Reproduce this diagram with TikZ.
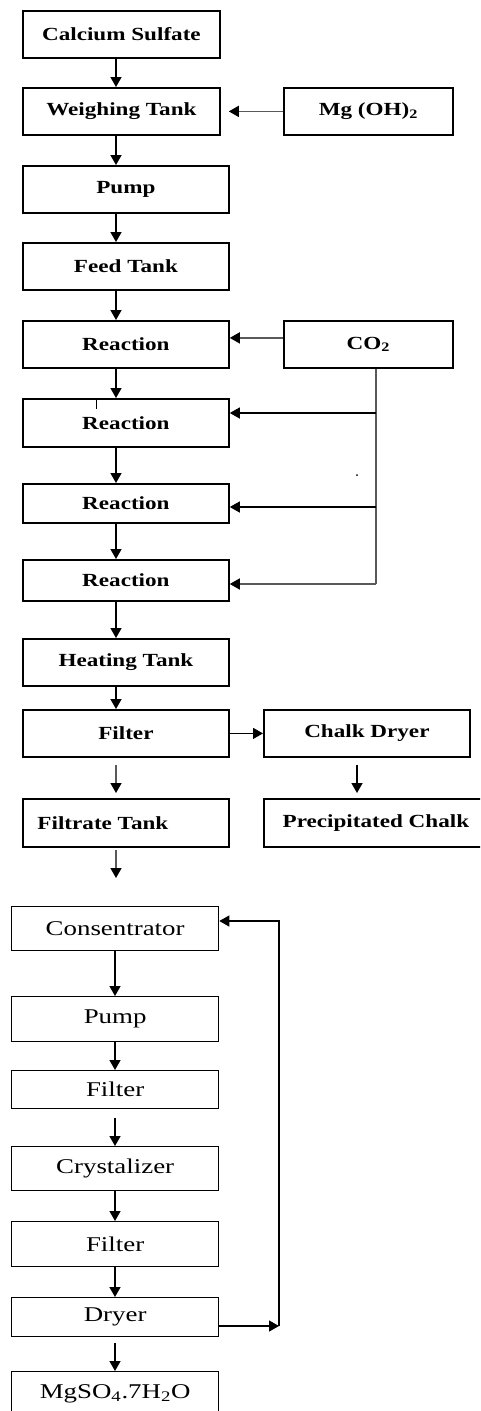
\documentclass[tikz,border=0pt]{standalone}
\usepackage{fontspec}
\usepackage{graphicx}
\setmainfont{Liberation Serif}
\usetikzlibrary{arrows.meta}
\newcommand{\hs}[1]{\scalebox{1.25}[1]{#1}}
\newcommand{\ls}[1]{\scalebox{1.28}[1]{#1}}
\tikzset{
  boxt/.style={draw=black, line width=1.8pt, inner sep=0pt, anchor=north west,
    font=\fontsize{18.5}{20}\selectfont\bfseries},
  boxb/.style={draw=black, line width=1.3pt, inner sep=0pt, anchor=north west,
    font=\fontsize{21}{23}\selectfont},
  arr/.style={-{Triangle[length=10pt,width=11pt,color=black]}, line width=1.5pt, draw=black},
  garr/.style={arr, draw=black!65},
  gline/.style={line width=1.8pt, draw=black!65},
}
\begin{document}
\begin{tikzpicture}[x=1pt,y=-1pt]
\useasboundingbox (0,0) rectangle (480,1411);
\clip (0,0) rectangle (480,1411);
% helper x positions
\coordinate (ax) at (116,0);
\coordinate (bx) at (115,0);
\coordinate (cx) at (376,0);
\coordinate (dx) at (357,0);
% upper boxes
\node[boxt, minimum width=197pt, minimum height=47pt] (cs) at (22,10) {\hs{Calcium Sulfate}};
\node[boxt, minimum width=197pt, minimum height=47pt] (wt) at (22,87) {\hs{Weighing Tank}};
\node[boxt, minimum width=169pt, minimum height=47pt] (mg) at (283,87) {\hs{Mg (OH)\textsubscript{2}}};
\node[boxt, minimum width=206pt, minimum height=47pt] (p1) at (22,165) {\hs{Pump}};
\node[boxt, minimum width=206pt, minimum height=47pt] (fd) at (22,242) {\hs{Feed Tank}};
\node[boxt, minimum width=206pt, minimum height=47pt] (r1) at (22,320) {\hs{Reaction}};
\node[boxt, minimum width=169pt, minimum height=47pt] (co) at (283,320) {\hs{CO\textsubscript{2}}};
\node[boxt, minimum width=206pt, minimum height=48pt] (r2) at (22,398) {\hs{Reaction}};
\node[boxt, minimum width=206pt, minimum height=39pt] (r3) at (22,483) {\hs{Reaction}};
\node[boxt, minimum width=206pt, minimum height=41pt] (r4) at (22,559) {\hs{Reaction}};
\node[boxt, minimum width=206pt, minimum height=47pt] (ht) at (22,638) {\hs{Heating Tank}};
\node[boxt, minimum width=206pt, minimum height=47pt] (f1) at (22,709) {\hs{Filter}};
\node[boxt, minimum width=206pt, minimum height=47pt] (cd) at (263,709) {\hs{Chalk Dryer}};
\node[boxt, minimum width=206pt, minimum height=48pt] (ft) at (22,798) {\hs{Filtrate Tank}\hspace*{46pt}};
\node[boxt, minimum width=224pt, minimum height=48pt] (pc) at (263,798) {\hs{Precipitated Chalk}};
% lower boxes
\node[boxb, minimum width=207pt, minimum height=44pt] (cn) at (11,906) {\ls{Consentrator}};
\node[boxb, minimum width=207pt, minimum height=45pt] (p2) at (11,996) {\ls{Pump}};
\node[boxb, minimum width=207pt, minimum height=38pt] (f2) at (11,1070) {\ls{Filter}};
\node[boxb, minimum width=207pt, minimum height=44pt] (cr) at (11,1146) {\ls{Crystalizer}};
\node[boxb, minimum width=207pt, minimum height=45pt] (f3) at (11,1221) {\ls{Filter}};
\node[boxb, minimum width=207pt, minimum height=39pt] (dr) at (11,1297) {\ls{Dryer}};
\node[boxb, minimum width=207pt, minimum height=44pt] (ms) at (11,1371) {\ls{MgSO\textsubscript{4}.7H\textsubscript{2}O}};
% upper connectors
\draw[arr] (cs.south -| ax) -- (wt.north -| ax);
\draw[garr, shorten >=8pt] (mg.west) -- (wt.east);
\draw[arr] (wt.south -| ax) -- (p1.north -| ax);
\draw[arr] (p1.south -| ax) -- (fd.north -| ax);
\draw[arr] (fd.south -| ax) -- (r1.north -| ax);
\draw[garr] ([yshift=6.5pt]co.west) -- ([yshift=6.5pt]r1.east);
\draw[arr] (r1.south -| ax) -- (r2.north -| ax);
\draw[arr] (r2.south -| ax) -- (r3.north -| ax);
\draw[arr] (r3.south -| ax) -- (r4.north -| ax);
\draw[arr] (r4.south -| ax) -- (ht.north -| ax);
\draw[arr] (ht.south -| ax) -- (f1.north -| ax);
% CO2 distribution
\coordinate (b2) at (376,413);
\coordinate (b3) at (376,507);
\coordinate (b4) at (376,584);
\draw[gline] (co.south -| cx) -- (b4);
\draw[arr, line width=1.3pt] (b2) -- (b2 -| r2.east);
\draw[arr, line width=1.3pt] (b3) -- (b3 -| r3.east);
\draw[garr] (b4) -- (b4 -| r4.east);
% filter branches
\draw[arr, line width=1.2pt] (f1.east) -- (cd.west);
\draw[garr, shorten <=7pt, shorten >=5pt] (f1.south -| ax) -- (ft.north -| ax);
\draw[arr, shorten <=7pt, shorten >=5pt] (cd.south -| dx) -- (pc.north -| dx);
\draw[garr, shorten <=2pt, shorten >=28pt] (ft.south -| ax) -- (cn.north -| ax);
% lower connectors
\draw[arr] (cn.south -| bx) -- (p2.north -| bx);
\draw[arr] (p2.south -| bx) -- (f2.north -| bx);
\draw[arr, shorten <=9pt] (f2.south -| bx) -- (cr.north -| bx);
\draw[arr] (cr.south -| bx) -- (f3.north -| bx);
\draw[arr] (f3.south -| bx) -- (dr.north -| bx);
\draw[arr, shorten <=6pt] (dr.south -| bx) -- (ms.north -| bx);
% recycle loop
\coordinate (rd) at (279,1326);
\coordinate (ru) at (279,921);
\draw[arr, line width=1.3pt] (rd -| dr.east) -- (rd);
\draw[arr, line width=1.3pt] (rd) -- (ru) -- (ru -| cn.east);
% small marks seen in the picture
\draw[line width=1pt] (96,398) -- (96,409);
\fill (357,475) circle (1pt);
\end{tikzpicture}
\end{document}
